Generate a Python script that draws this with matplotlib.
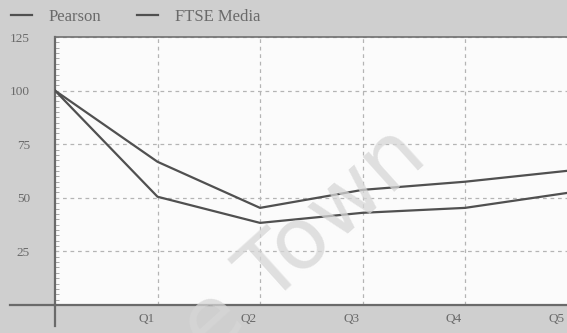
import numpy as np
import matplotlib
matplotlib.use("Agg")
import matplotlib.pyplot as plt
import matplotlib.ticker as ticker
import matplotlib.transforms as mtransforms
from matplotlib.lines import Line2D

## DATA ##
QUARTERS = [0, 1, 2, 3, 4, 5]
TICK_LABELS = ["Q1", "Q2", "Q3", "Q4", "Q5"]
PEARSON = [100, 50.5, 38.3, 43.0, 45.3, 52.3]
FTSE_MEDIA = [100, 66.8, 45.3, 53.7, 57.5, 62.6]

## STYLE ##
BG = "#cfcfcf"
TEXT = "#6a6a6a"
LINE = "#505050"
GRID = "#b4b4b4"

plt.rcParams["font.family"] = ["Liberation Serif", "DejaVu Serif"]

fig = plt.figure(figsize = (5.67, 3.33), dpi = 100, facecolor = BG)
ax = fig.add_axes([55 / 567, 1 - 305 / 333, 1 - 55 / 567 + 0.001, (305 - 37) / 333])
ax.set_facecolor("#fbfbfb")

ax.plot(QUARTERS, PEARSON, color = LINE, linewidth = 1.6, label = "Pearson", zorder = 3)
ax.plot(QUARTERS, FTSE_MEDIA, color = LINE, linewidth = 1.6, label = "FTSE Media", zorder = 3)

ax.set_xlim(0, 4.94)
ax.set_ylim(0, 125)
ax.set_xticks(QUARTERS[1:])
ax.set_xticklabels(TICK_LABELS)
ax.set_yticks([25, 50, 75, 100, 125])
ax.yaxis.set_minor_locator(ticker.MultipleLocator(2.5))

ax.grid(True, color = GRID, linestyle = (0, (3, 3)), linewidth = 0.9)
ax.tick_params(axis = "both", colors = TEXT, labelsize = 9.5, length = 0, pad = 6)
ax.tick_params(axis = "y", which = "minor", length = 3, direction = "in", color = "#9a9a9a")
ax.tick_params(axis = "y", pad = 18)

shift = mtransforms.ScaledTranslation(-11 / 100, 0, fig.dpi_scale_trans)
for lbl in ax.get_xticklabels():
	lbl.set_transform(lbl.get_transform() + shift)

ax.spines["right"].set_visible(False)
ax.spines["top"].set_color("#707070")
ax.spines["top"].set_linewidth(1.2)
for side in ["left", "bottom"]:
	ax.spines[side].set_color("#6a6a6a")
	ax.spines[side].set_linewidth(1.6)

# axis lines run past the plot corner
fig.add_artist(Line2D([10 / 567, 55 / 567], [1 - 305 / 333] * 2, color = "#6a6a6a", linewidth = 1.6))
fig.add_artist(Line2D([55 / 567] * 2, [1 - 326 / 333, 1 - 305 / 333], color = "#6a6a6a", linewidth = 1.6))

# legend
ax.legend(
	loc = "lower left",
	bbox_to_anchor = (-51 / 512, 1.02),
	ncol = 2,
	frameon = False,
	fontsize = 12,
	labelcolor = TEXT,
	handlelength = 1.3,
	handletextpad = 1.0,
	columnspacing = 2.1,
	borderaxespad = 0
)

# watermark
fig.text(
	430 / 567, 1 - 160 / 333, "Cape Town",
	family = "DejaVu Sans", fontsize = 62, color = "#d6d6d6", alpha = 0.75,
	rotation = 42, rotation_mode = "anchor", ha = "right", va = "baseline", zorder = 5
)

fig.savefig("out.png", dpi = 100, facecolor = BG)
